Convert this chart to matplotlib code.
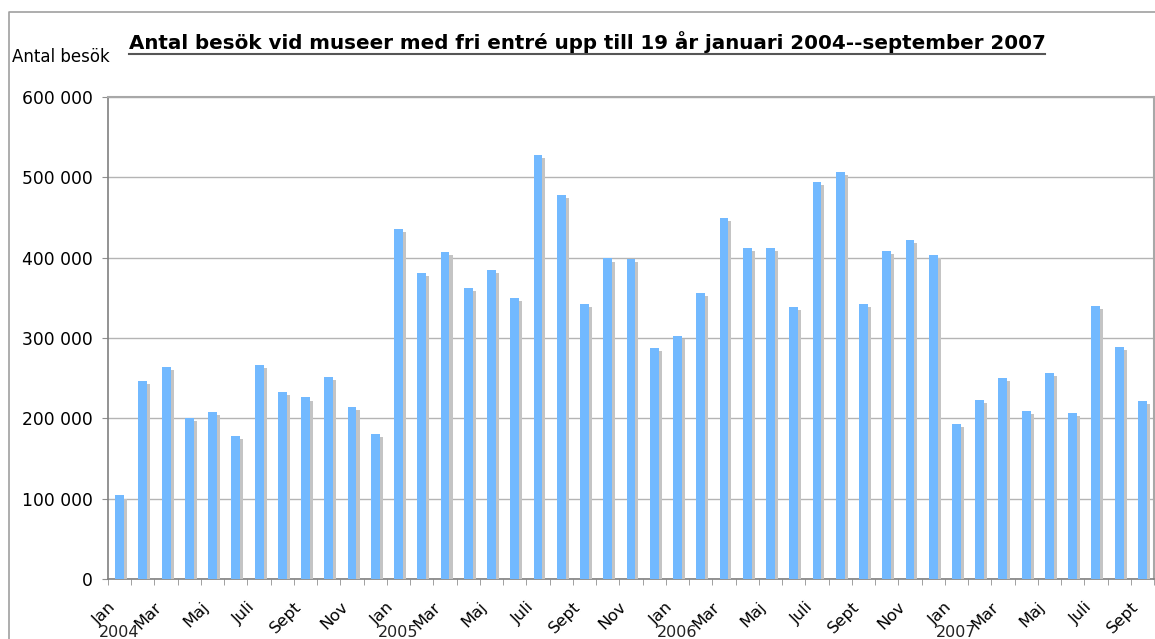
import numpy as np
import matplotlib
matplotlib.use('Agg')
from matplotlib import pyplot as plt
from matplotlib import patheffects
from matplotlib.lines import Line2D
from matplotlib.ticker import FuncFormatter, MultipleLocator
from matplotlib.transforms import ScaledTranslation

# besök per månad, jan 2004 - sept 2007
visitors = [104000, 247000, 264000, 201000, 208000, 178000, 267000, 233000, 226000, 251000, 214000, 181000,
            436000, 381000, 407000, 362000, 385000, 350000, 528000, 478000, 342000, 399000, 398000, 288000,
            303000, 356000, 450000, 412000, 412000, 339000, 494000, 507000, 342000, 408000, 422000, 403000,
            193000, 223000, 250000, 209000, 257000, 207000, 340000, 289000, 222000]
month_names = ['Jan', '', 'Mar', '', 'Maj', '', 'Juli', '', 'Sept', '', 'Nov', '']
years = ['2004', '2005', '2006', '2007']

n = len(visitors)
x = np.arange(n)
month_labels = [month_names[i % 12] for i in range(n)]

W, H = 1155, 639
fig = plt.figure(figsize=(W / 100, H / 100), dpi=100)
ax = fig.add_axes([108 / W, 1 - 579 / H, 1046 / W, (579 - 97) / H])

shadow = [patheffects.SimplePatchShadow(offset=(2.2, -2.2), shadow_rgbFace='#c4c4c4', alpha=1.0),
          patheffects.Normal()]
bars = ax.bar(x, visitors, width=0.38, color='#72b9ff', zorder=3)
for b in bars:
    b.set_path_effects(shadow)

ax.set_xlim(-0.5, n - 0.5)
ax.set_ylim(0, 600000)
ax.yaxis.set_major_locator(MultipleLocator(100000))
ax.yaxis.set_major_formatter(FuncFormatter(lambda v, p: f'{int(v):,}'.replace(',', ' ')))
ax.grid(axis='y', color='#b4b4b4', lw=1, zorder=0)
ax.tick_params(axis='y', labelsize=12.3, length=4, color='#909090', pad=7)

ax.set_xticks(x)
ax.set_xticklabels(month_labels, rotation=45, ha='right', rotation_mode='anchor', fontsize=11.8)
ax.set_xticks(np.arange(-0.5, n, 1), minor=True)
ax.tick_params(axis='x', which='major', length=0, pad=8)
ax.tick_params(axis='x', which='minor', length=4, color='#909090')
shift = ScaledTranslation(-0.12, -0.09, fig.dpi_scale_trans)
for lab in ax.get_xticklabels():
    lab.set_transform(lab.get_transform() + shift)

for s in ['left', 'bottom']:
    ax.spines[s].set_color('#808080')
    ax.spines[s].set_linewidth(1.2)
for s in ['top', 'right']:
    ax.spines[s].set_color('#a8a8a8')
    ax.spines[s].set_linewidth(1.5)

for i, yr in enumerate(years):
    ax.text(i * 12, -0.112, yr, transform=ax.get_xaxis_transform(), ha='center', va='center',
            fontsize=11.5, color='#222222')

fig.text(12 / W, 1 - 57 / H, 'Antal besök', fontsize=12, va='center', ha='left')
title = fig.text(587 / W, 1 - 49 / H,
                 'Antal besök vid museer med fri entré upp till 19 år januari 2004--september 2007',
                 fontsize=14.3, fontweight='bold', ha='center', va='baseline')

fig.canvas.draw()
bb = title.get_window_extent()
fig.add_artist(Line2D([bb.x0 / W, bb.x1 / W], [1 - 54 / H, 1 - 54 / H], color='#555555', lw=1.5))

# ram runt diagrammet
fig.add_artist(Line2D([8.5 / W, 8.5 / W, 1.0], [0, 1 - 11.5 / H, 1 - 11.5 / H], color='#a0a0a0', lw=1.2))

fig.savefig('out.png', dpi=100)
